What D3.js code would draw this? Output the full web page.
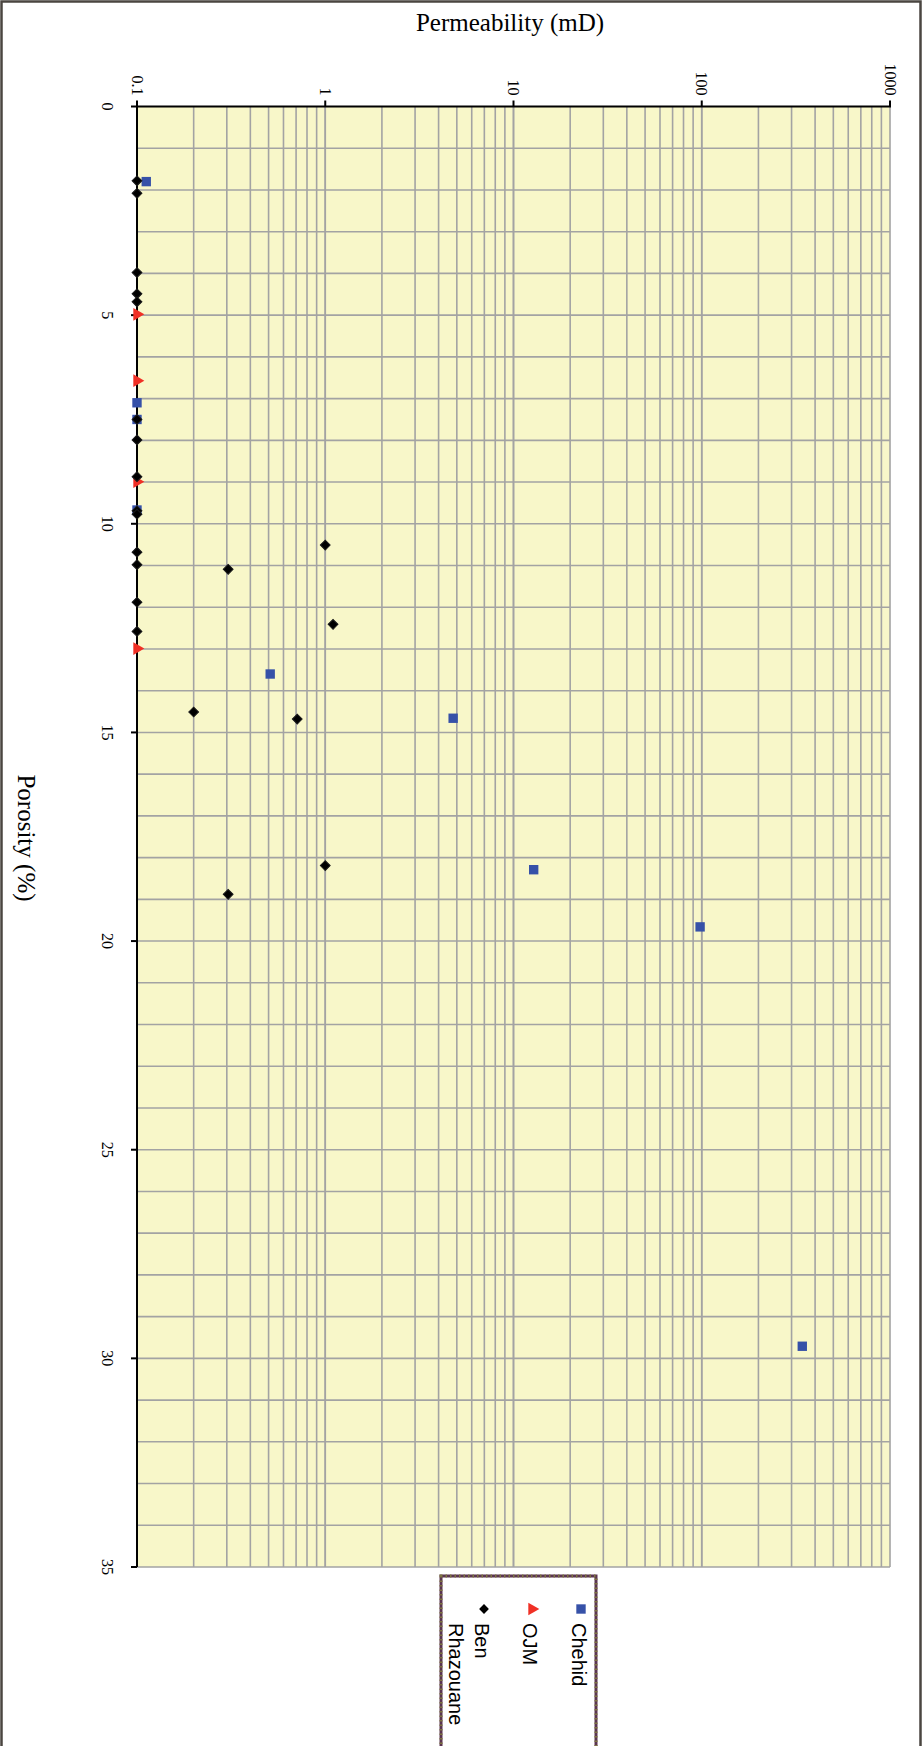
<!DOCTYPE html>
<html>
<head>
<meta charset="utf-8">
<script src="https://cdn.jsdelivr.net/npm/d3@7"></script>
<style>
  html, body { margin: 0; padding: 0; background: #ffffff; }
  svg { display: block; }
</style>
</head>
<body>
<svg id="chart" width="923" height="1746"></svg>
<script>
// Porosity (%) vs permeability (mD), sheet laid out turned a quarter turn clockwise
const porosityTicks = [0, 5, 10, 15, 20, 25, 30, 35];
const permTicks = [0.1, 1, 10, 100, 1000];
const permTickLabels = ["0.1", "1", "10", "100", "1000"];

const seriesNames = ["Chehid", "OJM", "Ben Rhazouane"];

// Chehid
const chehidPorosity = [1.8, 7.1, 7.5, 9.67, 13.6, 14.66, 18.29, 19.66, 29.71];
const chehidPerm     = [0.112, 0.1, 0.1, 0.1, 0.51, 4.78, 12.8, 98, 342];

// OJM
const ojmPorosity = [4.98, 6.57, 8.99, 12.99];
const ojmPerm     = [0.1, 0.1, 0.1, 0.1];

// Ben Rhazouane
const benPorosity = [1.78, 2.08, 3.98, 4.49, 4.68, 7.5, 7.99, 8.87, 9.69, 9.77,
                     10.51, 10.68, 10.98, 11.09, 11.88, 12.41, 12.58, 14.51, 14.68, 18.19, 18.88];
const benPerm     = [0.1, 0.1, 0.1, 0.1, 0.1, 0.1, 0.1, 0.1, 0.1, 0.1,
                     1.0, 0.1, 0.1, 0.305, 0.1, 1.1, 0.1, 0.2, 0.71, 1.0, 0.305];

const svg = d3.select("#chart");

// outer frame
svg.append("rect")
  .attr("x", 1.5).attr("y", 1.5)
  .attr("width", 919).attr("height", 1760)
  .attr("fill", "none")
  .attr("stroke", "#4a4540")
  .attr("stroke-width", 2.5);

const plot = { left: 137, right: 890, top: 106.5, bottom: 1567 };

const x = d3.scaleLog().domain([0.1, 1000]).range([plot.left, plot.right]);
const y = d3.scaleLinear().domain([0, 35]).range([plot.top, plot.bottom]);

// plot area
svg.append("rect")
  .attr("x", plot.left).attr("y", plot.top)
  .attr("width", plot.right - plot.left)
  .attr("height", plot.bottom - plot.top)
  .attr("fill", "#f8f7c9");

// grid
const grid = svg.append("g").attr("stroke", "#a3a3a3").attr("stroke-width", 1.6);
const minorPerm = [];
for (let dec = 0.1; dec < 1000; dec *= 10) {
  for (let m = 1; m <= 10; m++) minorPerm.push(+(dec * m).toPrecision(3));
}
grid.selectAll("line.v").data(minorPerm.filter(v => v > 0.1)).join("line")
  .attr("class", "v")
  .attr("x1", d => x(d)).attr("x2", d => x(d))
  .attr("y1", plot.top).attr("y2", plot.bottom);
grid.selectAll("line.h").data(d3.range(1, 36)).join("line")
  .attr("class", "h")
  .attr("x1", plot.left).attr("x2", plot.right)
  .attr("y1", d => y(d)).attr("y2", d => y(d));

// axes: permeability along the top, porosity down the left
const axisFont = "'Liberation Serif', 'Times New Roman', serif";

const topAxis = svg.append("g");
topAxis.append("line")
  .attr("x1", plot.left - 1).attr("x2", plot.right + 1)
  .attr("y1", plot.top).attr("y2", plot.top)
  .attr("stroke", "#000").attr("stroke-width", 2);
topAxis.selectAll("line.t").data(permTicks).join("line")
  .attr("class", "t")
  .attr("x1", d => x(d)).attr("x2", d => x(d))
  .attr("y1", plot.top).attr("y2", plot.top - 6)
  .attr("stroke", "#000").attr("stroke-width", 2);
topAxis.selectAll("text").data(permTicks).join("text")
  .attr("transform", d => `translate(${x(d) - 5.5},${plot.top - 11}) rotate(90)`)
  .attr("text-anchor", "end")
  .attr("font-family", axisFont)
  .attr("font-size", 16)
  .attr("fill", "#000")
  .text((d, i) => permTickLabels[i]);

const leftAxis = svg.append("g");
leftAxis.append("line")
  .attr("x1", plot.left).attr("x2", plot.left)
  .attr("y1", plot.top - 1).attr("y2", plot.bottom)
  .attr("stroke", "#000").attr("stroke-width", 2);
leftAxis.selectAll("line.t").data(porosityTicks).join("line")
  .attr("class", "t")
  .attr("x1", plot.left).attr("x2", plot.left - 6)
  .attr("y1", d => y(d)).attr("y2", d => y(d))
  .attr("stroke", "#000").attr("stroke-width", 2);
leftAxis.selectAll("text").data(porosityTicks).join("text")
  .attr("transform", d => `translate(${plot.left - 35.5},${y(d)}) rotate(90)`)
  .attr("text-anchor", "middle")
  .attr("font-family", axisFont)
  .attr("font-size", 16)
  .attr("fill", "#000")
  .text(d => d);

// axis titles
svg.append("text")
  .attr("x", 510).attr("y", 31)
  .attr("text-anchor", "middle")
  .attr("font-family", axisFont)
  .attr("font-size", 25)
  .attr("fill", "#000")
  .text("Permeability (mD)");
svg.append("text")
  .attr("transform", `translate(18,838) rotate(90)`)
  .attr("text-anchor", "middle")
  .attr("font-family", axisFont)
  .attr("font-size", 25)
  .attr("fill", "#000")
  .text("Porosity (%)");

// markers
const square = d3.symbol().type(d3.symbolSquare).size(88);
const triangle = d3.symbol().type(d3.symbolTriangle).size(70);
const diamond = d3.symbol().type(d3.symbolSquare).size(48);

const marks = svg.append("g");
marks.selectAll("path.chehid").data(d3.zip(chehidPerm, chehidPorosity)).join("path")
  .attr("class", "chehid")
  .attr("d", square)
  .attr("transform", d => `translate(${x(d[0])},${y(d[1])})`)
  .attr("fill", "#3651a8");
marks.selectAll("path.ojm").data(d3.zip(ojmPerm, ojmPorosity)).join("path")
  .attr("class", "ojm")
  .attr("d", triangle)
  .attr("transform", d => `translate(${x(d[0])},${y(d[1])}) rotate(90)`)
  .attr("fill", "#f03025");
marks.selectAll("path.ben").data(d3.zip(benPerm, benPorosity)).join("path")
  .attr("class", "ben")
  .attr("d", diamond)
  .attr("transform", d => `translate(${x(d[0])},${y(d[1])}) rotate(45)`)
  .attr("fill", "#000")
  .attr("stroke", "#1a1a1a")
  .attr("stroke-width", 1);

// legend
const legendBox = { x: 441, y: 1576, w: 155, h: 190 };
const legend = svg.append("g");
legend.append("rect")
  .attr("x", legendBox.x).attr("y", legendBox.y)
  .attr("width", legendBox.w).attr("height", legendBox.h)
  .attr("fill", "#ffffff")
  .attr("stroke", "#5b3550")
  .attr("stroke-width", 3);
legend.append("rect")
  .attr("x", legendBox.x).attr("y", legendBox.y)
  .attr("width", legendBox.w).attr("height", legendBox.h)
  .attr("fill", "none")
  .attr("stroke", "#7d7440")
  .attr("stroke-width", 3)
  .attr("stroke-dasharray", "1.5,3");

const legendFont = "'Liberation Sans', Arial, sans-serif";
const legendSymbols = [
  { gen: square, color: "#3651a8", rot: 0 },
  { gen: triangle, color: "#f03025", rot: 90 },
  { gen: diamond, color: "#000", rot: 45 }
];
const legendLines = [["Chehid"], ["OJM"], ["Ben", "Rhazouane"]];
const legendX = [581, 532, 484];

seriesNames.forEach((name, i) => {
  const s = legendSymbols[i];
  legend.append("path")
    .attr("d", s.gen)
    .attr("transform", `translate(${legendX[i]},${1609}) rotate(${s.rot})`)
    .attr("fill", s.color);
  legendLines[i].forEach((line, j) => {
    legend.append("text")
      .attr("transform", `translate(${legendX[i] - 9 - j * 26},${1623}) rotate(90)`)
      .attr("font-family", legendFont)
      .attr("font-size", 20)
      .attr("fill", "#000")
      .text(line);
  });
});
</script>
</body>
</html>
